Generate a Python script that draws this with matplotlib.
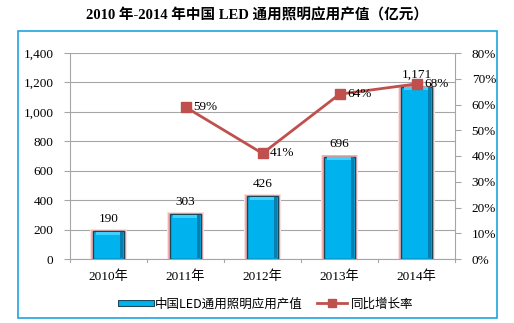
import matplotlib
matplotlib.use("Agg")
import matplotlib.pyplot as plt
from matplotlib.patches import Rectangle
from matplotlib.lines import Line2D
import matplotlib.patheffects as pe
import numpy as np

years = ["2010年", "2011年", "2012年", "2013年", "2014年"]
output_value = [190, 303, 426, 696, 1171]
output_labels = ["190", "303", "426", "696", "1,171"]
growth_years_idx = [1, 2, 3, 4]
growth_rate = [59, 41, 64, 68]
left_ticks = [0, 200, 400, 600, 800, 1000, 1200, 1400]
right_ticks = [0, 10, 20, 30, 40, 50, 60, 70, 80]

serif = ["Liberation Serif", "Noto Sans CJK SC", "DejaVu Sans"]
cjk = ["Noto Sans CJK SC", "DejaVu Sans"]
plt.rcParams['font.family'] = serif

fig = plt.figure(figsize=(5.14, 3.23), dpi=100)
W, H = 514, 323

# outer frame
fig.patches.append(Rectangle((18 / W, 1 - 318 / H), (497 - 18) / W, (318 - 31) / H,
                             transform=fig.transFigure, fill=False,
                             edgecolor="#1FA3E0", linewidth=1.2))

fig.text(0.5, 1 - 15 / H, "2010 年-2014 年中国 LED 通用照明应用产值（亿元）",
         ha="center", va="center", fontsize=10.5, fontweight="bold", family=serif)

ax = fig.add_axes([70 / W, 1 - 259 / H, (455 - 70) / W, (259 - 53) / H])
ax2 = ax.twinx()
ax.set_zorder(1)
ax2.set_zorder(2)
ax.patch.set_visible(False)

x = np.arange(len(years))
bw = 0.39
# glow
ax.bar(x, [v + 14 for v in output_value], width=bw + 0.10, color="#FBE0E0", zorder=2)
ax.bar(x, [v + 8 for v in output_value], width=bw + 0.06, color="#F3AFAF", zorder=2)
ax.bar(x, output_value, width=bw, color="#00B2EE", edgecolor="#16485A", linewidth=1.0, zorder=3)
# bevel: top highlight and right shadow
ax.bar(x, [20] * len(x), bottom=[v - 24 for v in output_value],
       width=bw * 0.82, color="#3FD0FF", zorder=4, linewidth=0)
ax.bar(x + bw * 0.44, [v - 10 for v in output_value], bottom=5,
       width=bw * 0.1, color="#087FAF", zorder=4, linewidth=0)

for xi, v, lab in zip(x, output_value, output_labels):
    ax.text(xi, v + 42, lab, ha="center", va="bottom", fontsize=9.5, zorder=6)

ax.set_xlim(-0.5, 4.5)
ax.set_ylim(0, 1400)
ax.set_yticks(left_ticks)
ax.set_yticklabels([f"{t:,}" for t in left_ticks], fontsize=9.5)
ax.grid(axis="y", color="#A6A6A6", linewidth=0.8, zorder=0)
ax.set_axisbelow(True)
ax.set_xticks(x)
ax.set_xticklabels(years, fontsize=9.5, family=serif)
ax.tick_params(axis="x", length=0, pad=8)
ax.tick_params(axis="y", length=4, color="#A6A6A6", pad=8, direction="out")
# category boundary ticks
for b in np.arange(-0.5, 5, 1.0):
    ax.plot([b, b], [0, -18], color="#A6A6A6", linewidth=0.8, clip_on=False)
for s in ["top", "right"]:
    ax.spines[s].set_visible(False)
for s in ["left", "bottom"]:
    ax.spines[s].set_color("#A6A6A6")

ax2.plot(growth_years_idx, growth_rate, color="#C0504D", linewidth=2,
         marker="s", markersize=7, zorder=5)
for xi, v in zip(growth_years_idx, growth_rate):
    ax2.text(xi + 0.1, v, f"{v}%", ha="left", va="center", fontsize=9.5, zorder=6)
ax2.set_ylim(0, 80)
ax2.set_yticks(right_ticks)
ax2.set_yticklabels([f"{t}%" for t in right_ticks], fontsize=9.5)
ax2.tick_params(axis="y", length=4, color="#A6A6A6", pad=8)
for s in ["top", "left", "bottom"]:
    ax2.spines[s].set_visible(False)
ax2.spines["right"].set_color("#A6A6A6")

handles = [Line2D([0], [0], color="#00B2EE", linewidth=3.5,
                  path_effects=[pe.Stroke(linewidth=5, foreground="#16485A"), pe.Normal()]),
           Line2D([0], [0], color="#C0504D", linewidth=2, marker="s", markersize=6)]
fig.legend(handles, ["中国LED通用照明应用产值", "同比增长率"],
           loc="center", bbox_to_anchor=(0.52, 1 - 304 / H), ncol=2, frameon=False,
           prop={"family": cjk, "size": 9}, handlelength=2.4, columnspacing=1.2,
           handletextpad=0.3)

fig.savefig("out.png", dpi=100)
